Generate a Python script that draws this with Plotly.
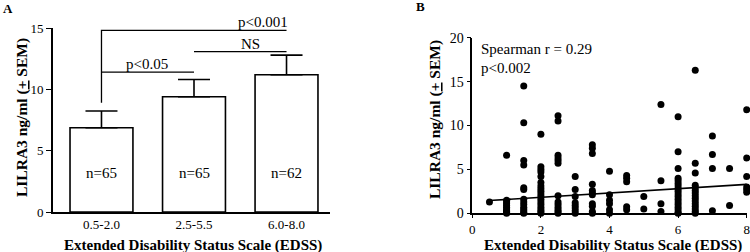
import plotly.graph_objects as go

# ---------------- Data ----------------
# Panel A
categories = ["0.5-2.0", "2.5-5.5", "6.0-8.0"]
bar_means = [6.87, 9.4, 11.19]
bar_sem = [1.36, 1.4, 1.6]
n_labels = ["n=65", "n=65", "n=62"]
y_ticks_a = [0, 5, 10, 15]

# significance brackets (category, value)
br1_x = ["0.5-2.0", "0.5-2.0", "6.0-8.0"]
br1_y = [8.9, 14.8, 14.8]
br2_x = ["2.5-5.5", "6.0-8.0"]
br2_y = [13.07, 13.07]
br3_x = ["0.5-2.0", "2.5-5.5"]
br3_y = [11.4, 11.4]
br_labels = ["p<0.001", "NS", "p<0.05"]

# Panel B  (EDSS, LILRA3)
edss_groups = {
    0.5: [1.3],
    1.0: [6.6, 1.5, 1.3, 1.1, 0.9, 0.7, 0.5, 0.3, 0.2, 0.1, 0.0],
    1.5: [14.5, 10.3, 6.0, 5.5, 2.9, 2.7, 1.6, 1.3, 1.0, 0.7, 0.5, 0.3, 0.1, 0.0],
    2.0: [9.0, 5.3, 5.0, 4.7, 4.2, 3.5, 3.1, 2.8, 2.5, 2.2, 1.9, 1.6, 1.3, 1.0, 0.7, 0.4, 0.2, 0.0],
    2.5: [11.1, 10.5, 6.6, 6.3, 6.0, 5.7, 2.0, 1.3, 1.0, 0.7, 0.4, 0.2, 0.0],
    3.0: [4.2, 2.7, 1.9, 1.2, 0.9, 0.6, 0.3, 0.0],
    3.5: [7.8, 7.4, 6.8, 3.3, 2.6, 2.3, 2.1, 1.1, 0.8, 0.2, 0.0],
    4.0: [4.8, 2.1, 1.5, 1.1, 0.4, 0.0],
    4.5: [4.3, 4.0, 3.6, 0.75, 0.4],
    5.0: [1.9, 0.5],
    5.5: [12.4, 3.7, 1.1, 0.2],
    6.0: [11.0, 7.0, 5.1, 4.0, 3.7, 3.4, 3.1, 2.8, 2.5, 2.2, 1.9, 1.6, 1.3, 1.0, 0.7, 0.4, 0.1, 0.0],
    6.5: [16.3, 5.7, 4.6, 3.2, 2.9, 2.6, 2.3, 2.0, 1.7, 1.4, 1.1, 0.8, 0.5, 0.2, 0.0],
    7.0: [8.8, 6.7, 5.1, 0.3],
    7.5: [5.1, 0.9],
    8.0: [11.8, 6.3, 4.2, 3.0, 2.7, 2.4],
}
scatter_x = [k for k, vals in edss_groups.items() for _ in vals]
scatter_y = [v for vals in edss_groups.values() for v in vals]

fit_x = [0.5, 8.0]
fit_y = [1.45, 3.3]
x_ticks_b = [0, 2, 4, 6, 8]
y_ticks_b = [0, 5, 10, 15, 20]

# ---------------- Figure ----------------
W, H = 750, 252
FONT = "Liberation Serif"


def px(x):
    return x / W


def py(y):
    return 1 - y / H


fig = go.Figure()

fig.add_trace(go.Bar(
    x=categories, y=bar_means, width=0.68,
    marker=dict(color="white", line=dict(color="black", width=1.6)),
    error_y=dict(type="data", array=bar_sem, arrayminus=[0, 0, 0], symmetric=False,
                 color="black", thickness=1.6, width=16),
    xaxis="x", yaxis="y", showlegend=False, hoverinfo="skip",
))

for bx, by in [(br1_x, br1_y), (br2_x, br2_y), (br3_x, br3_y)]:
    fig.add_trace(go.Scatter(x=bx, y=by, mode="lines", line=dict(color="black", width=1.3),
                             xaxis="x", yaxis="y", showlegend=False, cliponaxis=False,
                             hoverinfo="skip"))

fig.add_trace(go.Scatter(
    x=scatter_x, y=scatter_y, mode="markers",
    marker=dict(color="black", size=7),
    xaxis="x2", yaxis="y2", showlegend=False, cliponaxis=False,
))
fig.add_trace(go.Scatter(
    x=fit_x, y=fit_y, mode="lines", line=dict(color="black", width=1.6),
    xaxis="x2", yaxis="y2", showlegend=False, cliponaxis=False,
))

axis_common = dict(showline=True, linecolor="black", linewidth=1.6, showgrid=False,
                   zeroline=False, automargin=False,
                   tickfont=dict(family=FONT, size=13, color="black"),
                   ticklen=5, tickwidth=1.4, tickcolor="black")

fig.update_layout(
    width=W, height=H,
    margin=dict(l=0, r=0, t=0, b=0, pad=0),
    paper_bgcolor="white", plot_bgcolor="white",
    font=dict(family=FONT, color="black"),
    xaxis=dict(axis_common, domain=[px(53), px(330)], anchor="y", type="category",
               range=[-0.524, 2.47], ticks="", ticklen=2),
    yaxis=dict(axis_common, domain=[py(212), py(28)], anchor="x", range=[0, 15],
               tickvals=y_ticks_a, ticks="outside"),
    xaxis2=dict(axis_common, domain=[px(472.3), px(746.7)], anchor="y2", range=[0, 8],
                tickvals=x_ticks_b, ticks="outside", ticklen=3),
    yaxis2=dict(axis_common, domain=[py(213.3), py(37.7)], anchor="x2", range=[0, 20],
                tickvals=y_ticks_b, ticks="outside", ticklen=4,
                tickfont=dict(family=FONT, size=14, color="black")),
)


def note(x, y, text, size, xanchor="center", angle=0):
    return dict(x=px(x), y=py(y), xref="paper", yref="paper", text=text, showarrow=False,
                xanchor=xanchor, yanchor="middle", textangle=angle,
                font=dict(family=FONT, size=size, color="black"))


ann = []
# n labels (inside bars)
for i, t in enumerate(n_labels):
    ann.append(dict(x=i, y=3.18, xref="x", yref="y", text=t, showarrow=False,
                    xanchor="center", yanchor="middle",
                    font=dict(family=FONT, size=15, color="black")))
# p labels
ann.append(note(263, 22, br_labels[0], 15))
ann.append(note(250, 44, br_labels[1], 15))
ann.append(note(147, 64, br_labels[2], 15))

# panel letters
ann.append(note(1, 8, "<b>A</b>", 13, xanchor="left"))
ann.append(note(414, 6, "<b>B</b>", 13, xanchor="left"))

# axis titles
xt = "<b>Extended Disability Status Scale (EDSS)</b>"
yt = "<b>LILRA3 ng/ml (<span style='text-decoration:underline'>+</span> SEM)</b>"
ann.append(note(193, 245, xt, 15))
ann.append(note(613, 245, xt, 15))
ann.append(note(22, 118, yt, 15.5, angle=-90))
ann.append(note(435, 119, yt, 15.5, angle=-90))

# Spearman text
ann.append(note(479, 49, "Spearman r = 0.29", 15, xanchor="left"))
ann.append(note(479, 68, "p<0.002", 15, xanchor="left"))

fig.update_layout(annotations=ann)
fig.write_html("out.html", config={"displayModeBar": False},
               post_script="document.body.style.margin='0';")
